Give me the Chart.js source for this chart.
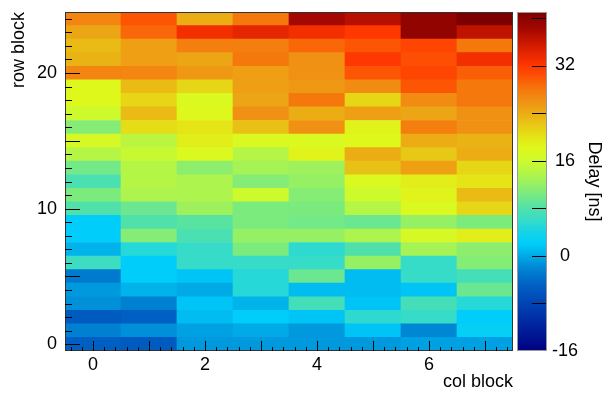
<!DOCTYPE html>
<html>
<head>
<meta charset="utf-8">
<script src="https://cdn.jsdelivr.net/npm/chart.js@4.4.1/dist/chart.umd.min.js"></script>
<style>
  html, body { margin: 0; padding: 0; background: #fff; }
</style>
</head>
<body>
<canvas id="chart-area" width="609" height="393"></canvas>
<script>
const colBlocks = ['0', '1', '2', '3', '4', '5', '6', '7'];
const rowBlocks = [0, 1, 2, 3, 4, 5, 6, 7, 8, 9, 10, 11, 12, 13, 14, 15, 16, 17, 18, 19, 20, 21, 22, 23, 24];

// delay [ns] per cell, one line per row block (row 0 first), 8 col blocks each
const delay = [
	[-5, -5.5, -1, -1, -1, -1, -0.5, -0.5],
	[-2.5, -1.5, -0.5, 0, -1, 1.5, -2, 2.5],
	[-5.5, -5, 1, 2, 1.5, 5.5, 6, 2],
	[-1.5, -2.5, 1.5, 0.5, 7, 1.5, 7, 5],
	[-1, 0.5, 0, 5, 1, 1, 1.5, 9.5],
	[-3, 2, 1.5, 5, 9.5, 1, 6, 7],
	[6.5, 2, 6, 6, 6, 12, 6, 11],
	[0.5, 5, 6, 10.5, 5.5, 8, 13, 11.5],
	[2, 11, 7.5, 12, 12, 13.5, 17, 19],
	[2, 8, 8.5, 10.5, 10, 9.5, 12, 10.5],
	[8, 9.5, 12.5, 10.5, 10.5, 14, 17.5, 21],
	[10.5, 13.5, 13.5, 16, 11, 16, 18.5, 23],
	[7.5, 14, 13.5, 11, 12, 17.5, 19, 20],
	[10, 14, 11.5, 13, 12.5, 22.5, 25, 21],
	[14, 15.5, 17.5, 14, 18.5, 24, 22, 24],
	[17, 14.5, 19, 17.5, 17.5, 18, 24, 23.5],
	[11, 20.5, 20, 22.5, 26, 18.5, 27.5, 26],
	[16, 23, 18, 26, 24, 25, 24.5, 26],
	[18, 21, 17.5, 24.5, 28, 21, 26.5, 28],
	[18, 23, 21, 25, 25.5, 26.5, 30, 28],
	[27, 27, 25.5, 25, 26, 30, 31, 29.5],
	[23.5, 25, 24.5, 28, 26, 32, 30.5, 33],
	[23, 25, 27.5, 27.5, 29, 30, 31, 28],
	[24.5, 29, 33, 34, 33, 32, 39.5, 36.5],
	[27, 30, 24, 28, 38, 37, 39.5, 41]
];

const rowTicks = [0, 10, 20];
const paletteMin = -16;
const paletteMax = 41;
const paletteLabels = [-16, 0, 16, 32];
const paletteTicks = [-8, 0, 8, 16, 24, 32, 40];

// colour palette stops (value -> rgb)
const paletteStops = [-16, -10, -5, -2, 0, 2, 4, 6, 8, 10, 12, 14, 16, 18, 20, 22, 24, 26, 28, 30, 32, 34, 36, 38, 41];
const paletteColors = [
	[0, 0, 130], [0, 50, 170], [0, 95, 195], [0, 135, 212], [0, 170, 230], [0, 205, 250],
	[20, 212, 230], [55, 220, 200], [80, 225, 170], [115, 233, 135], [150, 240, 100],
	[180, 245, 70], [205, 250, 45], [222, 248, 28], [228, 228, 22], [232, 200, 22],
	[235, 172, 20], [240, 145, 20], [245, 120, 12], [252, 85, 4], [255, 55, 0],
	[230, 38, 0], [200, 22, 0], [165, 8, 0], [125, 0, 0]
];

function rgb(c){
	return 'rgb(' + c.map(Math.round).join(',') + ')';
}

function colorFor(v){ // 값 -> 팔레트 색
	if ( v <= paletteStops[0] ) return rgb(paletteColors[0]);
	for ( let i = 1; i < paletteStops.length; i++ ) {
		if ( v <= paletteStops[i] ) {
			const t = (v - paletteStops[i-1]) / (paletteStops[i] - paletteStops[i-1]);
			const a = paletteColors[i-1], b = paletteColors[i];
			return rgb(a.map((ch, k) => ch + (b[k] - ch) * t));
		}
	}
	return rgb(paletteColors[paletteColors.length - 1]);
}

// frame, inner ticks and the colour palette
const framePlugin = {
	id: 'framePlugin',
	afterDatasetsDraw(chart){
		const {ctx, chartArea: a, scales} = chart;
		const x = scales.x, y = scales.y, c = scales.c;
		ctx.save();

		// palette bar
		const barLeft = a.right + 5, barRight = a.right + 33;
		const top = c.getPixelForValue(paletteMax), bottom = c.getPixelForValue(paletteMin);
		const grad = ctx.createLinearGradient(0, bottom, 0, top);
		paletteStops.forEach((v, i) => grad.addColorStop((v - paletteMin) / (paletteMax - paletteMin), rgb(paletteColors[i])));
		ctx.fillStyle = grad;
		ctx.fillRect(barLeft, top, barRight - barLeft, bottom - top);
		ctx.strokeStyle = '#999';
		ctx.lineWidth = 1;
		ctx.strokeRect(barLeft - 0.5, top + 0.5, barRight - barLeft + 1, bottom - top - 1);

		ctx.strokeStyle = '#000';
		ctx.beginPath();
		for ( const v of paletteTicks ) {
			const py = Math.round(c.getPixelForValue(v)) + 0.5;
			ctx.moveTo(barRight, py);
			ctx.lineTo(barRight - 14, py);
		}
		ctx.stroke();

		// frame
		ctx.strokeStyle = '#333';
		ctx.strokeRect(a.left + 0.5, a.top + 0.5, a.right - a.left - 1, a.bottom - a.top - 1);

		// ticks pointing into the plot
		ctx.strokeStyle = '#000';
		ctx.beginPath();
		for ( const r of rowBlocks ) {
			const py = Math.round(y.getPixelForValue(r)) + 0.5;
			const len = r % 5 === 0 ? 15 : 7;
			ctx.moveTo(a.left, py);
			ctx.lineTo(a.left + len, py);
		}
		const x0 = x.getPixelForValue(0);
		const step = x.getPixelForValue(1) - x0;
		for ( let k = -2; k <= 37; k++ ) {
			const px = Math.round(x0 + (k / 5) * step) + 0.5;
			const len = k % 5 === 0 ? 10 : 4;
			ctx.moveTo(px, a.bottom);
			ctx.lineTo(px, a.bottom - len);
		}
		ctx.stroke();
		ctx.restore();
	}
};

Chart.defaults.font.family = '"Liberation Sans", Arial, sans-serif';
Chart.defaults.font.size = 18;
Chart.defaults.color = '#000';

const datasets = rowBlocks.map(r => ({
	label: 'row ' + r,
	data: colBlocks.map(() => [r - 0.5, r + 0.5]),
	backgroundColor: delay[r].map(colorFor),
	borderWidth: 0,
	borderSkipped: false,
	barPercentage: 1,
	categoryPercentage: 1,
	grouped: false
}));

const chart = new Chart(document.getElementById('chart-area'), {
	type: 'bar',
	data: { labels: colBlocks, datasets: datasets },
	plugins: [framePlugin],
	options: {
		responsive: false,
		animation: false,
		layout: { padding: { top: 12, left: 0, right: 0, bottom: 0 } },
		plugins: { legend: { display: false }, tooltip: { enabled: false } },
		scales: {
			x: {
				type: 'category',
				offset: true,
				grid: { display: false, drawTicks: false },
				border: { display: false },
				ticks: {
					padding: 3,
					maxRotation: 0,
					autoSkip: false,
					callback: function(val, i){ return i % 2 === 0 ? this.getLabelForValue(val) : ''; }
				},
				title: { display: true, text: 'col block', align: 'end', padding: { top: 0, bottom: 0 } },
				afterFit: s => { s.height = 42; s.paddingLeft = 0; s.paddingRight = 0; }
			},
			y: {
				type: 'linear',
				min: -0.5,
				max: 24.5,
				grid: { display: false, drawTicks: false },
				border: { display: false },
				afterBuildTicks: s => { s.ticks = rowTicks.map(v => ({ value: v })); },
				ticks: { padding: 8 },
				title: { display: true, text: 'row block', align: 'end', padding: { top: 8, bottom: 0 } },
				afterFit: s => { s.width = 65; s.paddingTop = 0; s.paddingBottom = 0; }
			},
			c: {
				type: 'linear',
				position: 'right',
				min: paletteMin,
				max: paletteMax,
				grid: { display: false, drawTicks: false },
				border: { display: false },
				afterBuildTicks: s => { s.ticks = paletteLabels.map(v => ({ value: v })); },
				ticks: { padding: 39, crossAlign: 'center' },
				title: { display: true, text: 'Delay [ns]', padding: { top: 4, bottom: 0 } },
				afterFit: s => { s.width = 96; s.paddingTop = 0; s.paddingBottom = 0; }
			}
		}
	}
});
</script>
</body>
</html>
